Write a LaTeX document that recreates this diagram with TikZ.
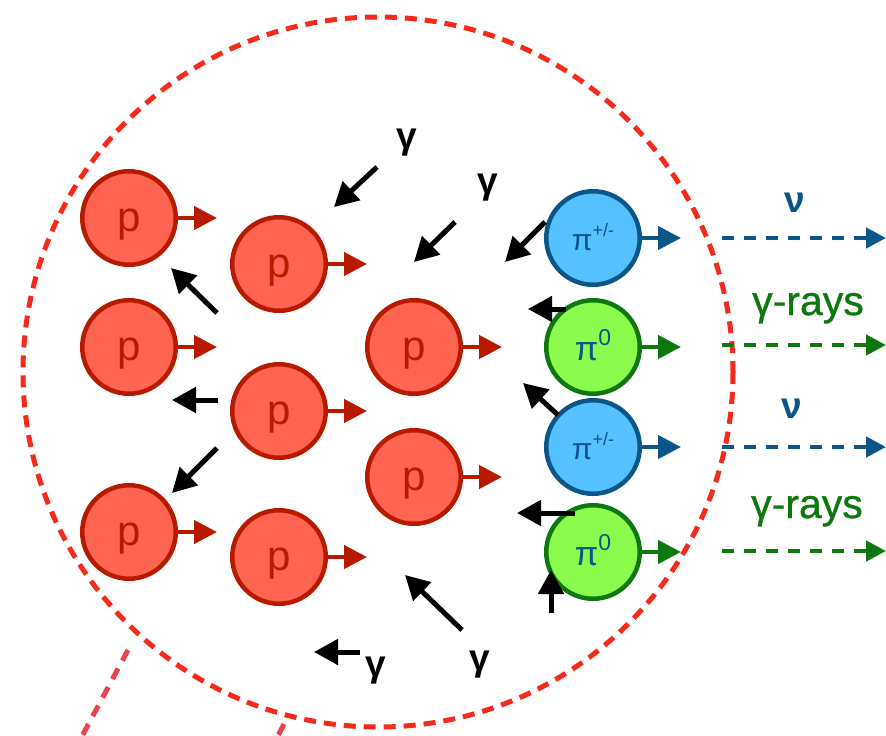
\documentclass[tikz,border=0pt]{standalone}
\usepackage{fontspec}
\setmainfont{Liberation Sans}
\newfontfamily\medfont[FakeBold=0.8]{Liberation Sans}
\usetikzlibrary{arrows.meta}

\definecolor{pfill}{HTML}{FF6452}
\definecolor{pline}{HTML}{B81A00}
\definecolor{cfill}{HTML}{56C1FF}
\definecolor{cline}{HTML}{0B5688}
\definecolor{nfill}{HTML}{8CFA4C}
\definecolor{nline}{HTML}{0E780E}
\definecolor{ring}{HTML}{F52A1A}
\definecolor{cone}{HTML}{EA4350}

\tikzset{
  particle/.style={circle, minimum size=93.5pt, inner sep=0pt, line width=4.5pt},
  proton/.style={particle, draw=pline, fill=pfill, text=pline,
    text height=30pt, text depth=4pt,
    font=\fontsize{42}{42}\selectfont},
  cpion/.style={particle, draw=cline, fill=cfill, text=cline,
    text height=28pt, text depth=4pt,
    font=\fontsize{30}{30}\selectfont},
  npion/.style={particle, draw=nline, fill=nfill, text=cline,
    text height=30pt, text depth=4pt,
    font=\fontsize{34}{34}\selectfont},
  move/.style={line width=4.5pt, -{Triangle[length=23pt,width=23pt]}},
  photon/.style={black, line width=5pt, -{Triangle[length=24pt,width=25pt]}},
  escape/.style={line width=4.5pt, dash pattern=on 12pt off 10pt,
    -{Triangle[length=20pt,width=20pt]}},
  glabel/.style={anchor=base, font=\bfseries\fontsize{37}{37}\selectfont},
  nulabel/.style={anchor=base, text=cline, font=\bfseries\fontsize{37}{37}\selectfont},
  raylabel/.style={anchor=base, text=nline, font=\medfont\fontsize{41}{41}\selectfont},
}

\newcommand{\chargedpi}{π\raisebox{0.45em}{\fontsize{18}{18}\selectfont +/-}}
\newcommand{\neutralpi}{π\raisebox{0.42em}{\fontsize{23}{23}\selectfont 0}}

\begin{document}
\begin{tikzpicture}[x=1pt, y=-1pt]
\useasboundingbox (0,0) rectangle (886,736);

% zoom cone leaving the region
\draw[cone, line width=5pt, dash pattern=on 12pt off 9pt] (128,650) -- (80,740);
\draw[cone, line width=5pt, dash pattern=on 12pt off 9pt] (284,724) -- (276,740);

% interaction region
\draw[ring, line width=5pt, dash pattern=on 12pt off 8pt] (378,372) circle (355);

% protons
\node[proton] (p1) at (129,218) {p};
\node[proton] (p2) at (129,347) {p};
\node[proton] (p3) at (129,532) {p};
\node[proton] (p4) at (279,264) {p};
\node[proton] (p5) at (279,411) {p};
\node[proton] (p6) at (279,557) {p};
\node[proton] (p7) at (414,347) {p};
\node[proton] (p8) at (414,477) {p};

% pions
\node[cpion] (c1) at (593,238) {\chargedpi};
\node[npion] (n1) at (593,347) {\neutralpi};
\node[cpion] (c2) at (593,447) {\chargedpi};
\node[npion] (n2) at (593,552) {\neutralpi};

% forward motion of every particle
\foreach \n in {p1,p2,p3,p4,p5,p6,p7,p8} {
  \coordinate (\n-tip) at ([xshift=39pt]\n.east);
  \draw[move, pline] (\n.east) -- (\n-tip);
}
\foreach \n in {c1,c2} {
  \coordinate (\n-tip) at ([xshift=39pt]\n.east);
  \draw[move, cline] (\n.east) -- (\n-tip);
}
\foreach \n in {n1,n2} {
  \coordinate (\n-tip) at ([xshift=39pt]\n.east);
  \draw[move, nline] (\n.east) -- (\n-tip);
}

% secondaries escaping the region
\coordinate (nu1a) at (722,238);  \coordinate (nu1b) at (886,238);
\coordinate (gr1a) at (722,345);  \coordinate (gr1b) at (886,345);
\coordinate (nu2a) at (722,447);  \coordinate (nu2b) at (886,447);
\coordinate (gr2a) at (722,551);  \coordinate (gr2b) at (886,551);
\draw[escape, cline] (nu1a) -- (nu1b);
\draw[escape, nline] (gr1a) -- (gr1b);
\draw[escape, cline] (nu2a) -- (nu2b);
\draw[escape, nline] (gr2a) -- (gr2b);

\node[nulabel]  (nu1) at (795,212) {ν};
\node[raylabel] (gr1) at (808,315) {γ-rays};
\node[nulabel]  (nu2) at (792,418) {ν};
\node[raylabel] (gr2) at (807,518) {γ-rays};

% incoming photons
\node[glabel] (g1) at (407,148) {γ};
\node[glabel] (g2) at (488,193) {γ};
\node[glabel] (g3) at (480,670) {γ};
\node[glabel] (g4) at (376,676) {γ};

\coordinate (a1s) at (377,167); \coordinate (a1e) at (334,207);
\coordinate (a2s) at (455,222); \coordinate (a2e) at (414,262);
\coordinate (a3s) at (545,222); \coordinate (a3e) at (505,262);
\coordinate (a4s) at (217,313); \coordinate (a4e) at (171,268);
\coordinate (a5s) at (218,400); \coordinate (a5e) at (172,400);
\coordinate (a6s) at (217,448); \coordinate (a6e) at (172,493);
\coordinate (a7s) at (566,309); \coordinate (a7e) at (528,309);
\coordinate (a8s) at (558,415); \coordinate (a8e) at (523,383);
\coordinate (a9s) at (575,513); \coordinate (a9e) at (517,513);
\coordinate (a10s) at (551,613); \coordinate (a10e) at (551,570);
\coordinate (a11s) at (462,630); \coordinate (a11e) at (405,575);
\coordinate (a12s) at (360,652); \coordinate (a12e) at (314,652);

\foreach \i in {1,...,12} {
  \draw[photon] (a\i s) -- (a\i e);
}
\end{tikzpicture}
\end{document}
